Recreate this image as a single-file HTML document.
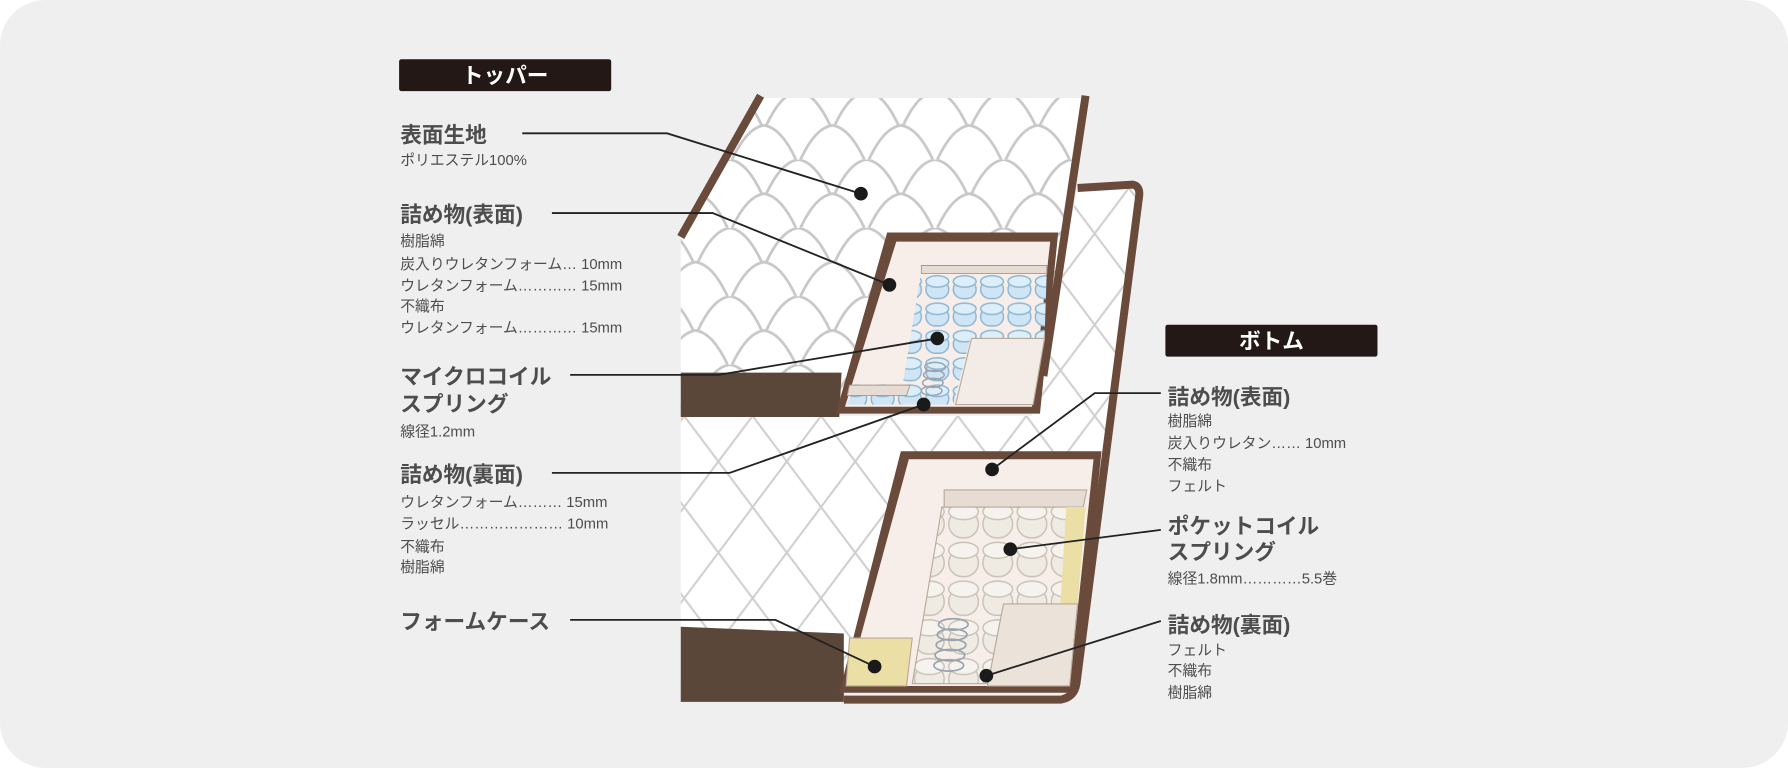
<!DOCTYPE html>
<html><head><meta charset="utf-8"><style>
html,body{margin:0;padding:0;background:#fff;}
svg{display:block}
text{font-family:"Liberation Sans","Noto Sans CJK JP",sans-serif;fill:#4d4d4d}
.h{font-size:19px;font-weight:bold}
.s{font-size:13px}
.l{stroke:#222;stroke-width:1.6;fill:none}
</style></head><body>
<svg width="1788" height="768" viewBox="0 0 1568 674" preserveAspectRatio="none" xmlns="http://www.w3.org/2000/svg">
<defs>
<pattern id="sc" width="60" height="60" patternUnits="userSpaceOnUse" x="610" y="80">
<path d="M2 30 Q15 2 30 0 Q45 2 58 30 M-28 60 Q-15 32 0 30 Q15 32 28 60 M32 60 Q45 32 60 30 Q75 32 88 60" stroke="#c8c8c8" stroke-width="2.4" fill="none"/>
</pattern>
<pattern id="dm" width="60" height="80" patternUnits="userSpaceOnUse" x="600" y="365">
<path d="M0 0 L30 40 L60 0 M0 80 L30 40 L60 80" stroke="#cfcfcf" stroke-width="1.8" fill="none"/>
</pattern>
<pattern id="cb" width="24" height="24" patternUnits="userSpaceOnUse" x="810" y="240">
<rect x="2" y="6" width="20" height="16" rx="8" fill="#cfe5f5" stroke="#8fb6d0" stroke-width="1.3"/>
<ellipse cx="12" cy="7" rx="10" ry="5" fill="#dceefa" stroke="#8fb6d0" stroke-width="1.3"/>
</pattern>
<pattern id="cp" width="30" height="34" patternUnits="userSpaceOnUse" x="830" y="440">
<rect x="2" y="8" width="26" height="24" rx="12" fill="#efebe3" stroke="#c8c2b6" stroke-width="1.3"/>
<ellipse cx="15" cy="9" rx="13" ry="7" fill="#f6f3ee" stroke="#c8c2b6" stroke-width="1.3"/>
</pattern>
</defs>
<rect width="1568" height="674" fill="#fff"/>
<rect x="0" y="0" width="1568" height="674" rx="40" fill="#efefef"/>

<!-- bottom mattress -->
<polygon points="597,365 905,365 945,165 995,162 1000,175 943,605 597,605" fill="#fff"/>
<polygon points="597,365 905,365 945,165 995,162 1000,175 943,605 597,605" fill="url(#dm)"/>
<path d="M945,165 L993,162 Q1000,163 999,172 L944,600 Q942,612 930,614 L740,614" stroke="#6a4a3a" stroke-width="7" fill="none"/>
<polygon points="597,550 740,556 740,616 597,616" fill="#5b4739"/>
<polygon points="790,396 966,396 944,608 736,608" fill="#6a4a3a"/>
<polygon points="797,403 959,403 938,602 743,602" fill="#f7eeea"/>
<polygon points="828,430 953,430 950,445 828,445" fill="#e6dcd3" stroke="#b8a999" stroke-width="1"/>
<polygon points="826,445 950,445 932,540 880,540 866,600 800,600" fill="url(#cp)"/>
<polygon points="826,445 950,445 932,540 880,540 866,600 800,600" fill="none" stroke="#b8a999"/>
<polygon points="935,445 952,445 945,530 930,530" fill="#ebdfa6"/>
<polygon points="880,530 945,530 938,602 866,602" fill="#ebe3da" stroke="#b8a999"/>
<polygon points="745,560 800,560 795,602 742,602" fill="#ebdfa6" stroke="#b8a999"/>
<g stroke="#9aa4b0" stroke-width="1.5" fill="none">
<ellipse cx="836" cy="548" rx="13" ry="5"/><ellipse cx="835" cy="557" rx="13" ry="5"/><ellipse cx="834" cy="566" rx="13" ry="5"/><ellipse cx="833" cy="575" rx="13" ry="5"/><ellipse cx="832" cy="584" rx="13" ry="5"/>
</g>

<!-- topper -->
<polygon points="667,86 950,86 906,362 597,362 597,205" fill="#fff"/>
<polygon points="667,86 950,86 906,362 597,362 597,205" fill="url(#sc)"/>
<path d="M597,208 L667,84" stroke="#6a4a3a" stroke-width="7"/>
<path d="M952,84 L915,330" stroke="#6a4a3a" stroke-width="7"/>
<polygon points="597,327 738,327 736,366 597,366" fill="#5b4739"/>
<polygon points="778,204 928,204 912,363 733,363" fill="#6a4a3a"/>
<polygon points="786,212 921,212 905,357 741,357" fill="#f7eeea"/>
<polygon points="808,237 918,237 916,297 851,297 836,355 743,355 750,335 792,335" fill="url(#cb)"/>
<polygon points="808,233 918,233 918,240 808,240" fill="#e6dcd3" stroke="#a89888" stroke-width="0.8"/>
<polygon points="852,297 916,297 906,355 838,355" fill="#f2ebe6" stroke="#b8a999"/>
<polygon points="745,338 798,338 795,347 743,347" fill="#e6dcd3" stroke="#a89888" stroke-width="0.8"/>
<g stroke="#9aa4b0" stroke-width="1.3" fill="none">
<ellipse cx="820" cy="322" rx="9" ry="4"/><ellipse cx="819" cy="329" rx="9" ry="4"/><ellipse cx="818" cy="336" rx="9" ry="4"/><ellipse cx="817" cy="343" rx="9" ry="4"/>
</g>

<!-- labels -->
<rect x="350" y="52" width="186" height="28" rx="2" fill="#231815"/>
<text x="443" y="73" text-anchor="middle" style="fill:#fff;font-size:19px;font-weight:bold">トッパー</text>
<rect x="1022" y="285" width="186" height="28" rx="2" fill="#231815"/>
<text x="1115" y="306" text-anchor="middle" style="fill:#fff;font-size:19px;font-weight:bold">ボトム</text>

<text class="h" x="351" y="125">表面生地</text>
<text class="s" x="351" y="145">ポリエステル100%</text>
<text class="h" x="351" y="195">詰め物(表面)</text>
<text class="s" x="351" y="216">樹脂綿</text>
<text class="s" x="351" y="236">炭入りウレタンフォーム…  10mm</text>
<text class="s" x="351" y="255">ウレタンフォーム………… 15mm</text>
<text class="s" x="351" y="273">不織布</text>
<text class="s" x="351" y="292">ウレタンフォーム………… 15mm</text>
<text class="h" x="351" y="337">マイクロコイル</text>
<text class="h" x="351" y="361">スプリング</text>
<text class="s" x="351" y="383">線径1.2mm</text>
<text class="h" x="351" y="423">詰め物(裏面)</text>
<text class="s" x="351" y="445">ウレタンフォーム……… 15mm</text>
<text class="s" x="351" y="464">ラッセル………………… 10mm</text>
<text class="s" x="351" y="484">不織布</text>
<text class="s" x="351" y="502">樹脂綿</text>
<text class="h" x="351" y="552">フォームケース</text>

<text class="h" x="1024" y="355">詰め物(表面)</text>
<text class="s" x="1024" y="374">樹脂綿</text>
<text class="s" x="1024" y="393">炭入りウレタン……  10mm</text>
<text class="s" x="1024" y="412">不織布</text>
<text class="s" x="1024" y="431">フェルト</text>
<text class="h" x="1024" y="468">ポケットコイル</text>
<text class="h" x="1024" y="491">スプリング</text>
<text class="s" x="1024" y="512">線径1.8mm…………5.5巻</text>
<text class="h" x="1024" y="555">詰め物(裏面)</text>
<text class="s" x="1024" y="575">フェルト</text>
<text class="s" x="1024" y="593">不織布</text>
<text class="s" x="1024" y="612">樹脂綿</text>

<!-- leaders -->
<g class="l">
<polyline points="458,117 585,117 755,170"/>
<polyline points="484,187 625,187 780,250"/>
<polyline points="500,329 630,329 822,297"/>
<polyline points="484,415 640,415 810,355"/>
<polyline points="500,544 680,544 767,585"/>
<polyline points="1018,345 960,345 870,412"/>
<polyline points="1018,465 886,482"/>
<polyline points="1018,545 865,593"/>
</g>
<g fill="#1a1a1a">
<circle cx="755" cy="170" r="6"/><circle cx="780" cy="250" r="6"/><circle cx="822" cy="297" r="6"/><circle cx="810" cy="355" r="6"/><circle cx="767" cy="585" r="6"/><circle cx="870" cy="412" r="6"/><circle cx="886" cy="482" r="6"/><circle cx="865" cy="593" r="6"/>
</g>
</svg>
</body></html>
